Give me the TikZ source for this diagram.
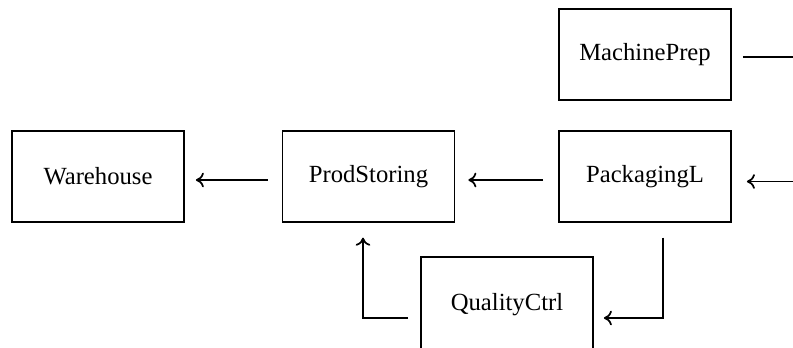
\documentclass[tikz,border=0pt]{standalone}
\usepackage{fontspec}
\setmainfont{Liberation Serif}
\usetikzlibrary{arrows.meta}

\begin{document}
\begin{tikzpicture}[x=0.75pt, y=-0.75pt, >={Computer Modern Rightarrow[length=6pt,width=11pt]},
  box/.style={draw, line width=1.3pt, minimum width=129pt, minimum height=68pt, font=\fontsize{18.5}{20}\selectfont},
  flow/.style={->, line width=1.3pt}]
\useasboundingbox (0,0) rectangle (793,347);
\clip (0,0) rectangle (793,347);

\node[box] (machineprep) at (645,54.5) {MachinePrep};
\node[box] (packagingl) at (645,176.5) {PackagingL};
\node[box] (prodstoring) at (368.5,176.5) {ProdStoring};
\node[box] (warehouse) at (98,176.5) {Warehouse};
\node[box, minimum height=72pt] (qualityctrl) at (507,305) {QualityCtrl};

% main line
\draw[flow] ([shift={(-15,3.5)}]packagingl.west) -- ([shift={(13,3.5)}]prodstoring.east);
\draw[flow] ([shift={(-14,3.5)}]prodstoring.west) -- ([shift={(11,3.5)}]warehouse.east);

% machine feed, runs off to the right
\draw[flow] ([shift={(11,2.5)}]machineprep.east) -- ++(80,0) coordinate (feed) |- ([shift={(15,5)}]packagingl.east);

% inspection loop
\draw[flow] ([shift={(18,15)}]packagingl.south) |- ([shift={(10,13)}]qualityctrl.east);
\draw[flow] ([shift={(-12,13)}]qualityctrl.west) -| ([shift={(-5.5,15)}]prodstoring.south);
\end{tikzpicture}
\end{document}
